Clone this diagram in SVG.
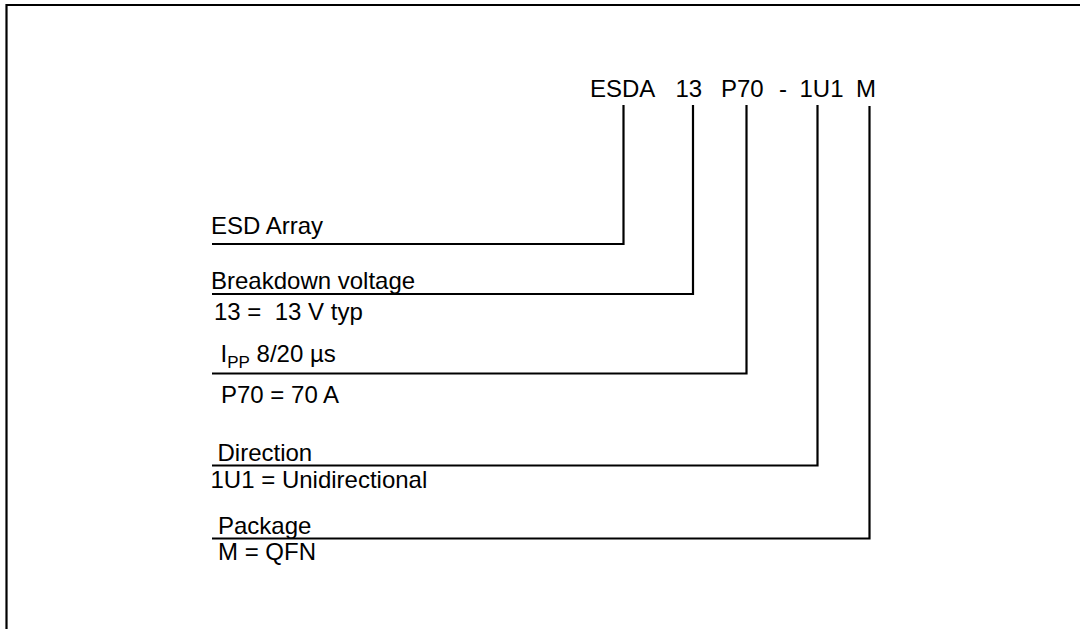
<svg xmlns="http://www.w3.org/2000/svg" width="1080" height="629" viewBox="0 0 1080 629">
<style>
text{font-family:"Liberation Sans",Arial,sans-serif;font-size:24px;fill:#000;white-space:pre}
.ln{fill:none;stroke:#000;stroke-width:2.2}
.frame{fill:none;stroke:#000;stroke-width:2.2}
</style>
<rect width="1080" height="629" fill="#fff"/>
<path class="frame" d="M6.5,629 V5 H1080"/>
<g id="code">
<text x="590" y="97">ESDA</text>
<text x="675.5" y="97">13</text>
<text x="721" y="97">P70</text>
<text x="779" y="97">-</text>
<text x="799.5" y="97">1U1</text>
<text x="856" y="97">M</text>
</g>
<g id="connectors">
<path class="ln" d="M623.5,105 V244 H212"/>
<path class="ln" d="M693,105 V294 H212"/>
<path class="ln" d="M746.5,105 V373.5 H212"/>
<path class="ln" d="M817.5,105 V465.5 H212"/>
<path class="ln" d="M869.5,106 V538.5 H212"/>
</g>
<g id="esd"><text x="211" y="234">ESD Array</text></g>
<g id="breakdown"><text x="211" y="289">Breakdown voltage</text><text x="214" y="320">13 =  13 V typ</text></g>
<g id="ipp"><text x="220.5" y="362">I<tspan font-size="17" dy="6">PP</tspan><tspan dy="-6"> 8/20 µs</tspan></text><text x="221" y="403">P70 = 70 A</text></g>
<g id="direction"><text x="217.5" y="461">Direction</text><text x="210.5" y="487.5">1U1 = Unidirectional</text></g>
<g id="package"><text x="218" y="534">Package</text><text x="218" y="560">M = QFN</text></g>
</svg>
